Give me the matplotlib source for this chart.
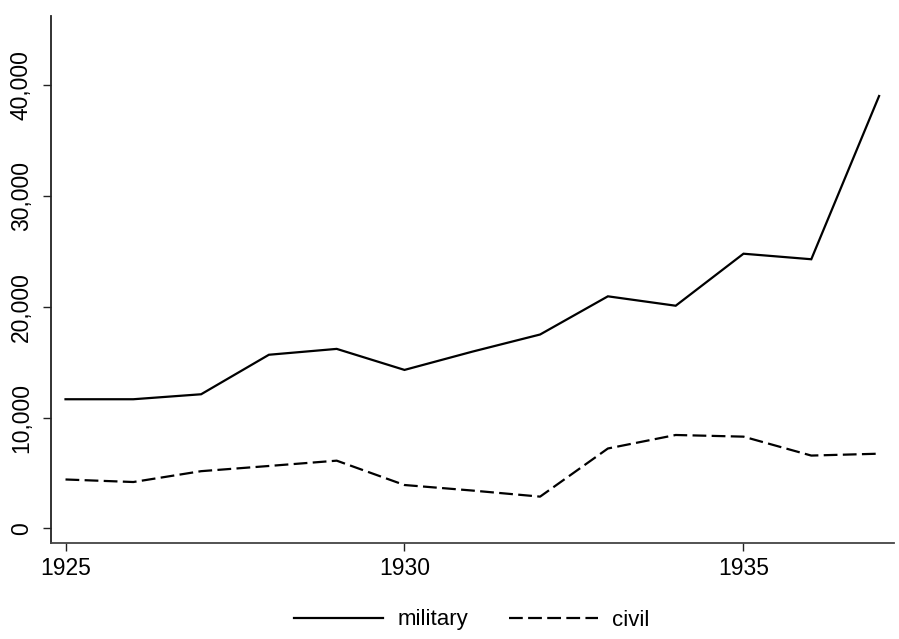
import matplotlib
matplotlib.use("Agg")
import matplotlib.pyplot as plt
from matplotlib.ticker import FuncFormatter

plt.rcParams['font.family'] = ['Liberation Sans', 'DejaVu Sans']

years = [1925, 1926, 1927, 1928, 1929, 1930, 1931, 1932, 1933, 1934, 1935, 1936, 1937]
military = [11650, 11650, 12100, 15670, 16200, 14300, 15950, 17500, 20950, 20100, 24800, 24300, 39050]
civil = [4400, 4170, 5150, 5620, 6100, 3900, 3400, 2850, 7200, 8420, 8270, 6560, 6730]
x_ticks = [1925, 1930, 1935]
y_ticks = [0, 10000, 20000, 30000, 40000]
series_labels = ["military", "civil"]

fig = plt.figure(figsize=(8.99, 6.39), dpi=100)
ax = fig.add_axes([51 / 899, 1 - 543 / 639, (894 - 51) / 899, (543 - 16) / 639])

ax.plot(years, military, color="black", lw=1.6, solid_joinstyle="miter",
        label=series_labels[0])
ax.plot(years, civil, color="black", lw=1.6, dashes=(6.2, 2.4),
        label=series_labels[1])

ax.set_xlim(1924.786, 1937.22)
ax.set_ylim(-1340, 46280)
ax.set_xticks(x_ticks)
ax.set_yticks(y_ticks)
ax.yaxis.set_major_formatter(FuncFormatter(lambda v, p: f"{int(v):,}"))

for s in ("top", "right"):
    ax.spines[s].set_visible(False)
ax.spines["left"].set_linewidth(1.3)
ax.spines["bottom"].set_linewidth(1.3)
ax.spines["left"].set_color("#222222")
ax.spines["bottom"].set_color("#444444")

ax.tick_params(axis="both", direction="out", length=6, width=1.0, labelsize=16.5,
               color="#222222")
ax.tick_params(axis="x", pad=4)
ax.tick_params(axis="y", pad=7)
for lbl in ax.get_yticklabels():
    lbl.set_rotation(90)
    lbl.set_va("center")

fig.legend(loc="center", bbox_to_anchor=(472 / 899, 1 - 620 / 639), ncol=2,
           frameon=False, fontsize=16, handlelength=4.0, handletextpad=0.63,
           columnspacing=1.85)

fig.savefig("out.png", dpi=100)
